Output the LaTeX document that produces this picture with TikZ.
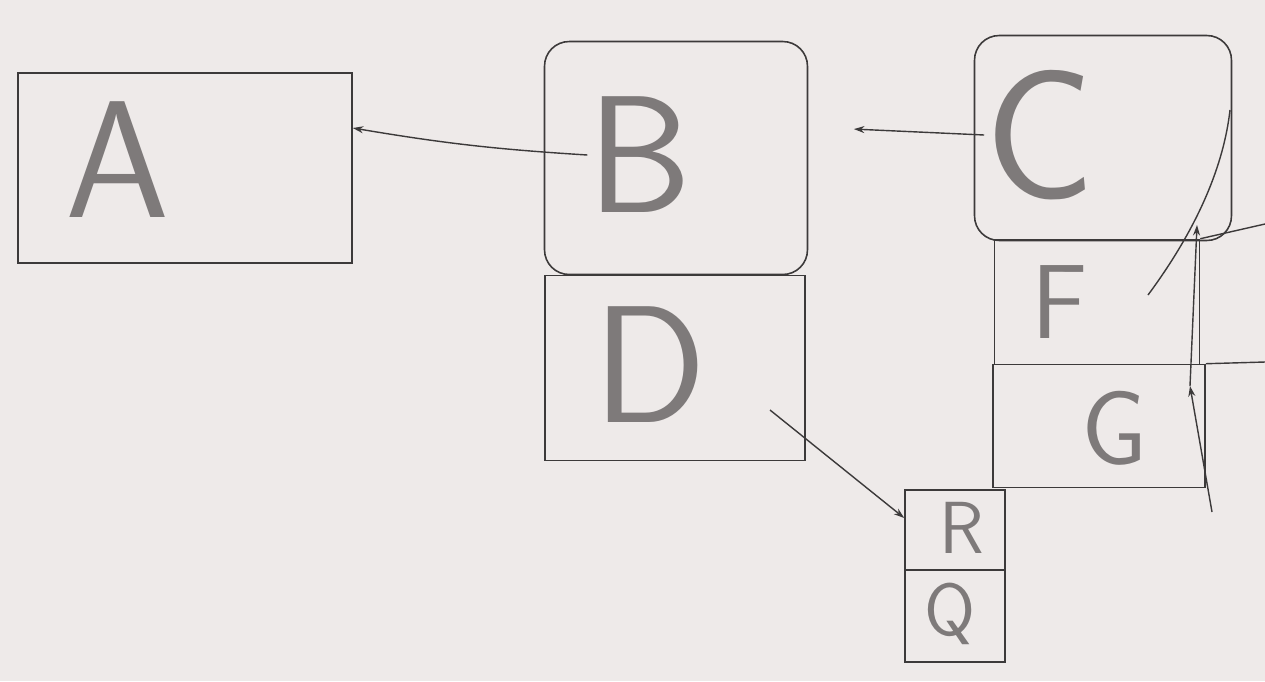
\documentclass[tikz,border=0pt]{standalone}
\usetikzlibrary{arrows.meta,positioning,calc}
\definecolor{paper}{HTML}{EEEAE9}
\definecolor{pen}{HTML}{3C3A3A}
\definecolor{pencil}{HTML}{7E7A7A}
\begin{document}
\begin{tikzpicture}[
  x=0.02cm,y=-0.02cm,
  font=\sffamily,
  >={Stealth[length=6pt,width=4pt]},
  box/.style={draw=pen,line width=0.9pt,inner sep=0pt},
  rbox/.style={box,rounded corners=14pt},
  letter/.style={text=pencil,inner sep=0pt},
  big/.style={letter,font=\sffamily\fontsize{95}{95}\selectfont},
  mid/.style={letter,font=\sffamily\fontsize{60}{60}\selectfont},
  small/.style={letter,font=\sffamily\fontsize{42}{42}\selectfont},
  arrow/.style={->,pen,line width=0.8pt},
  stroke/.style={pen,line width=0.8pt}
]
  \fill[paper] (0,0) rectangle (1265,681);
  \useasboundingbox (0,0) rectangle (1265,681);

  % left box
  \node[box,minimum width=6.68cm,minimum height=3.8cm] (A) at (185,168) {};
  \node[big] (At) at (118,160) {A};

  % middle column
  \node[rbox,minimum width=5.26cm,minimum height=4.66cm] (B) at (676,158) {};
  \node[big] (Bt) at (640,155) {B};
  \node[box,minimum width=5.2cm,minimum height=3.7cm] (D) at (675,368) {};
  \node[big] (Dt) at (650,365) {D};

  % right column
  \node[rbox,minimum width=5.14cm,minimum height=4.1cm] (C) at (1103,138) {};
  \node[letter,font=\sffamily\fontsize{105}{105}\selectfont] (Ct) at (1040,135) {C};
  \node[box,minimum width=4.1cm,minimum height=2.5cm] (F) at (1097,302) {};
  \node[mid] (Ft) at (1060,302) {F};
  \node[box,minimum width=4.24cm,minimum height=2.46cm] (G) at (1099,426) {};
  \node[mid] (Gt) at (1115,428) {G};

  % small pair
  \node[box,minimum width=2.0cm,minimum height=1.6cm] (R) at (955,530) {};
  \node[small] (Rt) at (962,528) {R};
  \node[box,minimum width=2.0cm,minimum height=1.84cm] (Q) at (955,616) {};
  \node[small] (Qt) at (950,614) {Q};

  % connectors
  \draw[arrow] (Bt.west) to[bend left=3] (A.east |- 0,128);
  \draw[arrow,shorten >=26pt] (Ct.west) -- (B.east |- 0,127);
  \coordinate (d1) at (770,410);
  \draw[arrow] (d1) -- (R.west |- 0,518);

  % strokes running off the right edge
  \coordinate (e1) at (1265,224);
  \coordinate (e2) at (1265,362);
  \draw[stroke] (F.north east) -- (e1);
  \draw[stroke] (G.north east) -- (e2);
  \draw[stroke] (1148,295) .. controls (1185,245) and (1222,180) .. (1230,110);

  % right-hand upward arrows
  \coordinate (g0) at (1212,512);
  \coordinate (g1) at (1190,386);
  \coordinate (g2) at (1197,225);
  \draw[arrow] (g0) -- (g1);
  \draw[arrow] (g1) -- (g2);

\end{tikzpicture}
\end{document}
